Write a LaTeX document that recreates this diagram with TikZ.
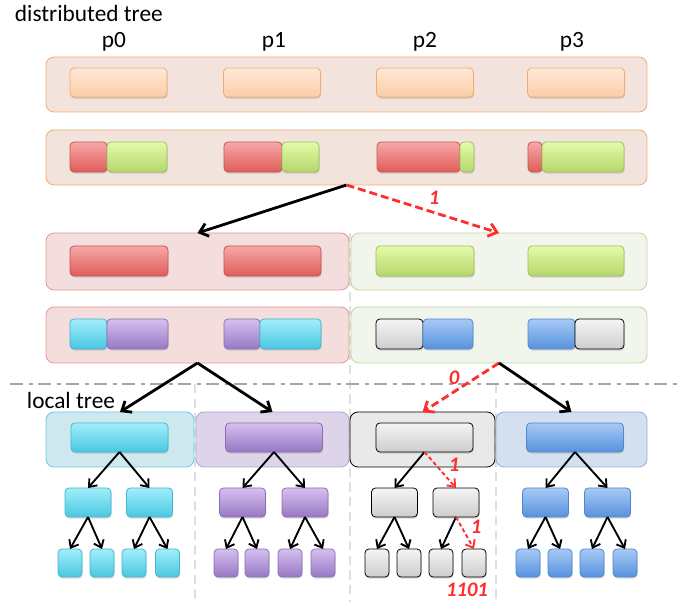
\documentclass[tikz,border=0pt]{standalone}
\usepackage{fontspec}
\setmainfont{Carlito}
\usetikzlibrary{arrows.meta,shadows}

\definecolor{peachfill}{RGB}{242,228,220}
\definecolor{peachline}{RGB}{247,170,110}
\definecolor{peachtop}{RGB}{253,232,214}
\definecolor{peachbot}{RGB}{251,206,166}
\definecolor{redtop}{RGB}{248,168,168}
\definecolor{redbot}{RGB}{222,92,88}
\definecolor{redline}{RGB}{196,84,84}
\definecolor{grntop}{RGB}{228,250,170}
\definecolor{grnbot}{RGB}{180,215,105}
\definecolor{grnline}{RGB}{158,192,98}
\definecolor{redfill}{RGB}{243,221,221}
\definecolor{rededge}{RGB}{228,150,150}
\definecolor{grnfill}{RGB}{242,245,235}
\definecolor{grnedge}{RGB}{190,215,155}
\definecolor{cyantop}{RGB}{162,238,250}
\definecolor{cyanbot}{RGB}{72,200,225}
\definecolor{cyanline}{RGB}{70,180,210}
\definecolor{purtop}{RGB}{214,192,240}
\definecolor{purbot}{RGB}{150,120,195}
\definecolor{purline}{RGB}{140,110,180}
\definecolor{gratop}{RGB}{245,245,245}
\definecolor{grabot}{RGB}{205,205,205}
\definecolor{blutop}{RGB}{168,202,246}
\definecolor{blubot}{RGB}{86,146,220}
\definecolor{bluline}{RGB}{80,135,205}
\definecolor{cyanfill}{RGB}{205,233,239}
\definecolor{cyanedge}{RGB}{110,200,225}
\definecolor{purfill}{RGB}{222,212,233}
\definecolor{puredge}{RGB}{182,162,210}
\definecolor{grafill}{RGB}{233,233,233}
\definecolor{blufill}{RGB}{212,224,239}
\definecolor{bluedge}{RGB}{140,175,220}
\definecolor{markred}{RGB}{255,45,45}

\tikzset{
  every picture/.style={line width=0.75pt},
  boxsize/.style 2 args={minimum width=#1*0.75pt, minimum height=#2*0.75pt, inner sep=0pt, outer sep=0pt},
  pane/.style={draw, rounded corners=6pt, line width=0.6pt},
  cell/.style={draw, rounded corners=3pt, line width=0.6pt, drop shadow={shadow xshift=0.5pt, shadow yshift=-1.2pt, opacity=0.3}},
  peach/.style={cell, draw=peachline, top color=peachtop, bottom color=peachbot},
  redc/.style={cell, draw=redline, top color=redtop, bottom color=redbot},
  grnc/.style={cell, draw=grnline, top color=grntop, bottom color=grnbot},
  cyanc/.style={cell, draw=cyanline, top color=cyantop, bottom color=cyanbot},
  purc/.style={cell, draw=purline, top color=purtop, bottom color=purbot},
  grac/.style={cell, draw=black, top color=gratop, bottom color=grabot},
  bluc/.style={cell, draw=bluline, top color=blutop, bottom color=blubot},
  tree/.style={-{Straight Barb[length=6pt,width=10pt]}, line width=2.1pt},
  subtree/.style={-{Straight Barb[length=5pt,width=8pt]}, line width=1.4pt},
  hit/.style={tree, draw=markred, dash pattern=on 6pt off 3pt},
  subhit/.style={subtree, draw=markred, dash pattern=on 3pt off 2pt},
  bitlabel/.style={text=markred, font=\fontsize{15.5}{15.5}\selectfont\bfseries\itshape},
  title/.style={font=\fontsize{17.5}{20}\selectfont}
}

\begin{document}
\begin{tikzpicture}[x=0.75pt,y=0.75pt,yscale=-1]
\useasboundingbox (0,0) rectangle (687,602);

%Separators
\draw [gray!25, line width=1.6pt, dash pattern=on 7pt off 4pt] (350,233) -- (350,602) ;
\draw [gray!25, line width=1.6pt, dash pattern=on 7pt off 4pt] (195,384) -- (195,602) ;
\draw [gray!25, line width=1.6pt, dash pattern=on 7pt off 4pt] (496,384) -- (496,602) ;
\draw [gray!70, line width=2.2pt, dash pattern=on 10pt off 4pt on 3pt off 4pt] (10,384) -- (680,384) ;

% Text Node
\node (dtlabel) [title, anchor=west] at (10,13) {distributed tree};
\node (lclabel) [title] at (71,400) {local tree};
\node (p0) [title] at (114,42) {p0};
\node (p1) [title] at (274,42) {p1};
\node (p2) [title] at (425,42) {p2};
\node (p3) [title] at (572,42) {p3};

%Row: all points
\node (top) [pane, draw=peachline, fill=peachfill, boxsize={601}{55}] at (346.5,84.5) {};
\node (top0) [peach, boxsize={97}{29}] at (118.5,82.5) {};
\node (top1) [peach, boxsize={97}{29}] at (272,82.5) {};
\node (top2) [peach, boxsize={97}{29}] at (425,82.5) {};
\node (top3) [peach, boxsize={97}{29}] at (576,82.5) {};

%Row: split by first bit
\node (mix) [pane, draw=peachline, fill=peachfill, boxsize={601}{55}] at (346.5,157.5) {};
\node (mix0r) [redc, boxsize={37}{30}] at (88.5,157) {};
\node (mix0g) [grnc, boxsize={60}{30}] at (137,157) {};
\node (mix1r) [redc, boxsize={58}{30}] at (253,157) {};
\node (mix1g) [grnc, boxsize={37}{30}] at (300.5,157) {};
\node (mix2r) [redc, boxsize={83}{30}] at (418.5,157) {};
\node (mix2g) [grnc, boxsize={14}{30}] at (467,157) {};
\node (mix3r) [redc, boxsize={14}{30}] at (535,157) {};
\node (mix3g) [grnc, boxsize={82}{30}] at (583,157) {};

%Row: red and green halves
\node (redpane) [pane, draw=rededge, fill=redfill, boxsize={303}{57}] at (197.5,261.5) {};
\node (grnpane) [pane, draw=grnedge, fill=grnfill, boxsize={296}{57}] at (499,261.5) {};
\node (red0) [redc, boxsize={98}{30}] at (119,261) {};
\node (red1) [redc, boxsize={97}{30}] at (272.5,261) {};
\node (grn2) [grnc, boxsize={98}{30}] at (425,261) {};
\node (grn3) [grnc, boxsize={96}{30}] at (576,261) {};

%Row: split by second bit
\node (redsplit) [pane, draw=rededge, fill=redfill, boxsize={303}{56}] at (197.5,335) {};
\node (grnsplit) [pane, draw=grnedge, fill=grnfill, boxsize={296}{56}] at (499,335) {};
\node (q0c) [cyanc, boxsize={37}{30}] at (88.5,334) {};
\node (q0p) [purc, boxsize={61}{30}] at (137.5,334) {};
\node (q1p) [purc, boxsize={36}{30}] at (242,334) {};
\node (q1c) [cyanc, boxsize={61}{30}] at (290.5,334) {};
\node (q2g) [grac, boxsize={47}{30}] at (399.5,334) {};
\node (q2b) [bluc, boxsize={50}{30}] at (448,334) {};
\node (q3b) [bluc, boxsize={47}{30}] at (551.5,334) {};
\node (q3g) [grac, boxsize={49}{30}] at (599.5,334) {};

%Local panes
\node (lcyan) [pane, draw=cyanedge, fill=cyanfill, boxsize={148}{55}] at (120,439.5) {};
\node (lpur) [pane, draw=puredge, fill=purfill, boxsize={153}{55}] at (272.5,439.5) {};
\node (lgray) [pane, draw=black, fill=grafill, boxsize={145}{55}] at (422.5,439.5) {};
\node (lblue) [pane, draw=bluedge, fill=blufill, boxsize={151}{55}] at (571.5,439.5) {};

%Local roots
\node (cyan) [cyanc, boxsize={97}{29}] at (119.5,437.5) {};
\node (pur) [purc, boxsize={97}{29}] at (274,437.5) {};
\node (gray) [grac, boxsize={97}{29}] at (424.5,437.5) {};
\node (blue) [bluc, boxsize={97}{29}] at (575,437.5) {};

%Local children
\node (cyanL) [cyanc, boxsize={46}{29}] at (88,502.5) {};
\node (cyanR) [cyanc, boxsize={46}{29}] at (149.5,502.5) {};
\node (purL) [purc, boxsize={46}{29}] at (242.5,502.5) {};
\node (purR) [purc, boxsize={46}{29}] at (305,502.5) {};
\node (grayL) [grac, boxsize={46}{29}] at (394.5,502.5) {};
\node (grayR) [grac, boxsize={46}{29}] at (456,502.5) {};
\node (blueL) [bluc, boxsize={46}{29}] at (545.5,502.5) {};
\node (blueR) [bluc, boxsize={46}{29}] at (607.5,502.5) {};

%Local leaves
\node (cyanLL) [cyanc, boxsize={24}{28}] at (70,563) {};
\node (cyanLR) [cyanc, boxsize={24}{28}] at (102,563) {};
\node (cyanRL) [cyanc, boxsize={24}{28}] at (134,563) {};
\node (cyanRR) [cyanc, boxsize={24}{28}] at (167.5,563) {};
\node (purLL) [purc, boxsize={24}{28}] at (226,563) {};
\node (purLR) [purc, boxsize={24}{28}] at (257,563) {};
\node (purRL) [purc, boxsize={24}{28}] at (290,563) {};
\node (purRR) [purc, boxsize={24}{28}] at (323,563) {};
\node (grayLL) [grac, boxsize={24}{28}] at (377,563) {};
\node (grayLR) [grac, boxsize={24}{28}] at (409,563) {};
\node (grayRL) [grac, boxsize={24}{28}] at (441,563) {};
\node (grayRR) [grac, boxsize={24}{28}] at (474,563) {};
\node (blueLL) [bluc, boxsize={24}{28}] at (528,563) {};
\node (blueLR) [bluc, boxsize={24}{28}] at (560,563) {};
\node (blueRL) [bluc, boxsize={24}{28}] at (592,563) {};
\node (blueRR) [bluc, boxsize={24}{28}] at (625,563) {};

%Distributed arrows
\draw [tree] (mix.south) -- (redpane.north) ;
\draw [hit] (mix.south) -- (grnpane.north) ;
\draw [tree] (redsplit.south) -- (lcyan.north) ;
\draw [tree] (redsplit.south) -- (lpur.north) ;
\draw [hit] (grnsplit.south) -- (lgray.north) ;
\draw [tree] (grnsplit.south) -- (lblue.north) ;

%Local arrows
\draw [subtree] (cyan.south) -- (cyanL.north) ;
\draw [subtree] (cyan.south) -- (cyanR.north) ;
\draw [subtree] (cyanL.south) -- (cyanLL.north) ;
\draw [subtree] (cyanL.south) -- (cyanLR.north) ;
\draw [subtree] (cyanR.south) -- (cyanRL.north) ;
\draw [subtree] (cyanR.south) -- (cyanRR.north) ;
\draw [subtree] (pur.south) -- (purL.north) ;
\draw [subtree] (pur.south) -- (purR.north) ;
\draw [subtree] (purL.south) -- (purLL.north) ;
\draw [subtree] (purL.south) -- (purLR.north) ;
\draw [subtree] (purR.south) -- (purRL.north) ;
\draw [subtree] (purR.south) -- (purRR.north) ;
\draw [subtree] (gray.south) -- (grayL.north) ;
\draw [subhit] (gray.south) -- (grayR.north) ;
\draw [subtree] (grayL.south) -- (grayLL.north) ;
\draw [subtree] (grayL.south) -- (grayLR.north) ;
\draw [subtree] (grayR.south) -- (grayRL.north) ;
\draw [subhit] (grayR.south) -- (grayRR.north) ;
\draw [subtree] (blue.south) -- (blueL.north) ;
\draw [subtree] (blue.south) -- (blueR.north) ;
\draw [subtree] (blueL.south) -- (blueLL.north) ;
\draw [subtree] (blueL.south) -- (blueLR.north) ;
\draw [subtree] (blueR.south) -- (blueRL.north) ;
\draw [subtree] (blueR.south) -- (blueRR.north) ;

% Text Node
\node (bit1) [bitlabel] at (434,198) {1};
\node (bit2) [bitlabel] at (454,378) {0};
\node (bit3) [bitlabel] at (454,465) {1};
\node (bit4) [bitlabel] at (476,527) {1};
\node (path) [bitlabel] at (467,590) {1101};

\end{tikzpicture}
\end{document}
